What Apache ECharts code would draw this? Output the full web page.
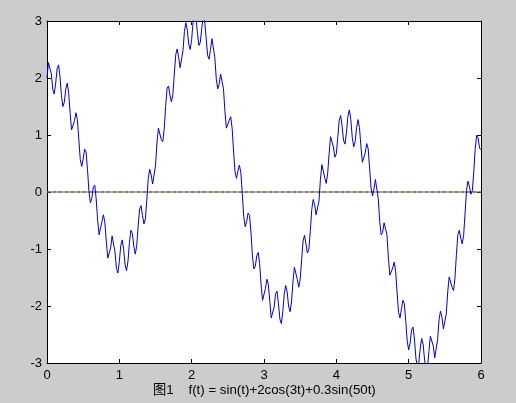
<!DOCTYPE html>
<html><head><meta charset="utf-8">
<script src="https://cdn.jsdelivr.net/npm/echarts@6/dist/echarts.min.js"></script>
<style>html,body{margin:0;padding:0;background:#cccccc;}#c{width:516px;height:403px;}</style>
</head><body><div id="c"></div>
<script>
const captionText = '图1    f(t) = sin(t)+2cos(3t)+0.3sin(50t)';
const xTickLabels = ['0','1','2','3','4','5','6'];
const yTickLabels = ['-3','-2','-1','0','1','2','3'];
const tValues = [0,0.02,0.04,0.06,0.08,0.1,0.12,0.14,0.16,0.18,0.2,0.22,0.24,0.26,0.28,0.3,0.32,0.34,0.36,0.38,0.4,0.42,0.44,0.46,0.48,0.5,0.52,0.54,0.56,0.58,0.6,0.62,0.64,0.66,0.68,0.7,0.72,0.74,0.76,0.78,0.8,0.82,0.84,0.86,0.88,0.9,0.92,0.94,0.96,0.98,1,1.02,1.04,1.06,1.08,1.1,1.12,1.14,1.16,1.18,1.2,1.22,1.24,1.26,1.28,1.3,1.32,1.34,1.36,1.38,1.4,1.42,1.44,1.46,1.48,1.5,1.52,1.54,1.56,1.58,1.6,1.62,1.64,1.66,1.68,1.7,1.72,1.74,1.76,1.78,1.8,1.82,1.84,1.86,1.88,1.9,1.92,1.94,1.96,1.98,2,2.02,2.04,2.06,2.08,2.1,2.12,2.14,2.16,2.18,2.2,2.22,2.24,2.26,2.28,2.3,2.32,2.34,2.36,2.38,2.4,2.42,2.44,2.46,2.48,2.5,2.52,2.54,2.56,2.58,2.6,2.62,2.64,2.66,2.68,2.7,2.72,2.74,2.76,2.78,2.8,2.82,2.84,2.86,2.88,2.9,2.92,2.94,2.96,2.98,3,3.02,3.04,3.06,3.08,3.1,3.12,3.14,3.16,3.18,3.2,3.22,3.24,3.26,3.28,3.3,3.32,3.34,3.36,3.38,3.4,3.42,3.44,3.46,3.48,3.5,3.52,3.54,3.56,3.58,3.6,3.62,3.64,3.66,3.68,3.7,3.72,3.74,3.76,3.78,3.8,3.82,3.84,3.86,3.88,3.9,3.92,3.94,3.96,3.98,4,4.02,4.04,4.06,4.08,4.1,4.12,4.14,4.16,4.18,4.2,4.22,4.24,4.26,4.28,4.3,4.32,4.34,4.36,4.38,4.4,4.42,4.44,4.46,4.48,4.5,4.52,4.54,4.56,4.58,4.6,4.62,4.64,4.66,4.68,4.7,4.72,4.74,4.76,4.78,4.8,4.82,4.84,4.86,4.88,4.9,4.92,4.94,4.96,4.98,5,5.02,5.04,5.06,5.08,5.1,5.12,5.14,5.16,5.18,5.2,5.22,5.24,5.26,5.28,5.3,5.32,5.34,5.36,5.38,5.4,5.42,5.44,5.46,5.48,5.5,5.52,5.54,5.56,5.58,5.6,5.62,5.64,5.66,5.68,5.7,5.72,5.74,5.76,5.78,5.8,5.82,5.84,5.86,5.88,5.9,5.92,5.94,5.96,5.98,6];
const fValues = [2.00,2.27,2.30,2.07,1.80,1.72,1.91,2.16,2.23,2.02,1.69,1.50,1.58,1.81,1.91,1.73,1.38,1.09,1.07,1.25,1.39,1.27,0.92,0.57,0.45,0.58,0.75,0.70,0.39,0.01,-0.19,-0.11,0.08,0.12,-0.12,-0.49,-0.75,-0.73,-0.52,-0.40,-0.53,-0.87,-1.16,-1.19,-0.98,-0.77,-0.79,-1.05,-1.34,-1.42,-1.22,-0.94,-0.84,-1.01,-1.28,-1.38,-1.21,-0.88,-0.67,-0.73,-0.95,-1.09,-0.95,-0.60,-0.30,-0.24,-0.41,-0.56,-0.47,-0.14,0.24,0.40,0.30,0.14,0.16,0.46,0.86,1.12,1.09,0.92,0.88,1.10,1.50,1.82,1.86,1.70,1.58,1.71,2.07,2.41,2.51,2.36,2.18,2.20,2.48,2.82,2.97,2.84,2.59,2.50,2.68,2.99,3.16,3.06,2.78,2.57,2.63,2.88,3.07,3.00,2.70,2.40,2.33,2.50,2.69,2.66,2.36,1.99,1.81,1.89,2.07,2.08,1.81,1.41,1.12,1.11,1.26,1.32,1.11,0.70,0.35,0.24,0.37,0.47,0.34,-0.03,-0.43,-0.61,-0.52,-0.37,-0.41,-0.71,-1.12,-1.35,-1.30,-1.12,-1.06,-1.26,-1.63,-1.90,-1.90,-1.69,-1.53,-1.62,-1.92,-2.21,-2.24,-2.02,-1.78,-1.74,-1.96,-2.23,-2.31,-2.10,-1.79,-1.64,-1.75,-2.00,-2.10,-1.93,-1.58,-1.32,-1.33,-1.53,-1.67,-1.54,-1.19,-0.86,-0.76,-0.91,-1.07,-1.01,-0.69,-0.31,-0.13,-0.22,-0.40,-0.42,-0.16,0.22,0.48,0.45,0.25,0.15,0.32,0.67,0.97,0.99,0.79,0.61,0.67,0.96,1.26,1.34,1.15,0.90,0.84,1.04,1.33,1.44,1.27,0.96,0.79,0.88,1.13,1.27,1.13,0.80,0.52,0.50,0.69,0.85,0.76,0.42,0.07,-0.07,0.05,0.22,0.19,-0.12,-0.52,-0.75,-0.71,-0.54,-0.51,-0.75,-1.16,-1.46,-1.49,-1.33,-1.23,-1.39,-1.77,-2.11,-2.21,-2.06,-1.90,-1.96,-2.27,-2.62,-2.77,-2.65,-2.42,-2.37,-2.58,-2.91,-3.10,-3.00,-2.74,-2.57,-2.67,-2.95,-3.15,-3.08,-2.80,-2.53,-2.50,-2.70,-2.91,-2.88,-2.59,-2.24,-2.09,-2.20,-2.40,-2.41,-2.14,-1.75,-1.49,-1.50,-1.67,-1.73,-1.51,-1.10,-0.75,-0.67,-0.81,-0.91,-0.76,-0.37,0.03,0.19,0.10,-0.04,0.02,0.35,0.76,0.99,0.95,0.77,0.74];
const zeroLineY = 0;

const chart = echarts.init(document.getElementById('c'), null, {renderer: 'canvas'});
const pts = tValues.map((t, i) => [t, fValues[i]]);
const axisFont = {color: '#000', fontSize: 13, fontFamily: 'Liberation Sans, Arial, sans-serif'};
const baseX = {type: 'value', min: 0, max: 6, interval: 1,
  axisLine: {show: true, onZero: false, lineStyle: {color: '#000', width: 1}},
  axisTick: {show: true, inside: true, length: 4, lineStyle: {color: '#000'}},
  splitLine: {show: false}};
const baseY = {type: 'value', min: -3, max: 3, interval: 1,
  axisLine: {show: true, onZero: false, lineStyle: {color: '#000', width: 1}},
  axisTick: {show: true, inside: true, length: 4, lineStyle: {color: '#000'}},
  splitLine: {show: false}};
chart.setOption({
  animation: false,
  backgroundColor: '#cccccc',
  title: {text: captionText, left: 148, top: 379,
    textStyle: {fontSize: 13.3, fontWeight: 'normal', color: '#000', fontFamily: 'Liberation Sans, Noto Sans CJK SC, sans-serif'}},
  grid: {left: 47, top: 21, width: 434, height: 342, show: true, backgroundColor: '#ffffff', borderWidth: 0},
  xAxis: [
    Object.assign({}, baseX, {position: 'bottom',
      axisLabel: Object.assign({margin: 6, formatter: (v) => xTickLabels[Math.round(v)]}, axisFont)}),
    Object.assign({}, baseX, {position: 'top', axisLabel: {show: false}})
  ],
  yAxis: [
    Object.assign({}, baseY, {position: 'left',
      axisLabel: Object.assign({margin: 5, formatter: (v) => yTickLabels[Math.round(v) + 3]}, axisFont)}),
    Object.assign({}, baseY, {position: 'right', axisLabel: {show: false}})
  ],
  series: [
    {type: 'line', data: [[tValues[0], zeroLineY], [tValues[tValues.length - 1], zeroLineY]],
      symbol: 'none', silent: true, lineStyle: {color: '#3a6a4a', width: 1}},
    {type: 'line', data: [[tValues[0], zeroLineY], [tValues[tValues.length - 1], zeroLineY]],
      symbol: 'none', silent: true, lineStyle: {color: '#d02828', width: 1, type: [3, 3]}},
    {type: 'line', data: pts, symbol: 'none', clip: true,
      lineStyle: {color: '#0000d0', width: 1}}
  ]
});
</script></body></html>
